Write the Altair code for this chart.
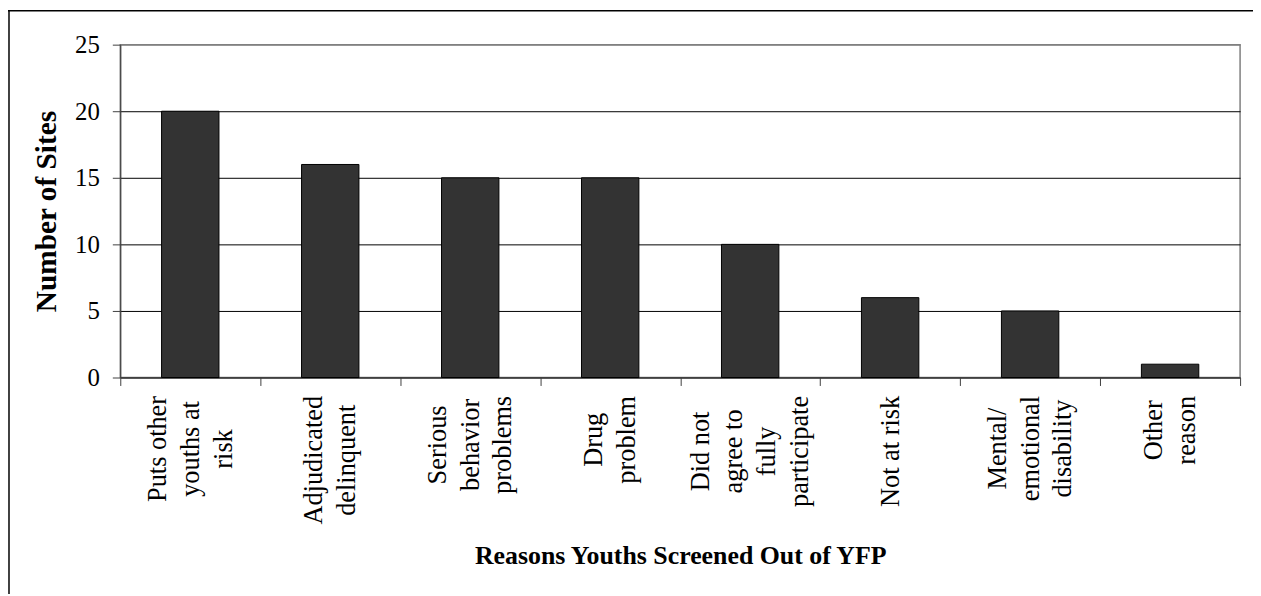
import altair as alt
import pandas as pd

# ---- data ----
categories = [
    "Puts other|youths at|risk",
    "Adjudicated|delinquent",
    "Serious|behavior|problems",
    "Drug|problem",
    "Did not|agree to|fully|participate",
    "Not at risk",
    "Mental/|emotional|disability",
    "Other|reason",
]
sites = [20, 16, 15, 15, 10, 6, 5, 1]
y_ticks = [0, 5, 10, 15, 20, 25]

df = pd.DataFrame({"reason": categories, "sites": sites})

# ---- styling ----
FONT = "Liberation Serif"
LABEL_SIZE = 26.5
LINE_H = 33
# Times / Liberation Serif advance widths (1/1000 em), used to top-align the
# centred multi-line rotated category labels
CHAR_W = {' ': 250, '/': 278, 'A': 722, 'D': 722, 'M': 889, 'N': 722, 'O': 722,
          'P': 556, 'S': 556, 'a': 444, 'b': 500, 'c': 444, 'd': 500, 'e': 444,
          'f': 333, 'g': 500, 'h': 500, 'i': 278, 'j': 278, 'k': 500, 'l': 278,
          'm': 778, 'n': 500, 'o': 500, 'p': 500, 'q': 500, 'r': 333, 's': 389,
          't': 278, 'u': 500, 'v': 500, 'y': 500}


def line_w(s):
    return sum(CHAR_W.get(c, 500) for c in s) * LABEL_SIZE / 1000.0


pad_conditions = [
    {"test": f"datum.value == '{c}'",
     "value": round(10 + max(line_w(l) for l in c.split('|')) / 2.0, 1)}
    for c in categories
]
offset_conditions = [
    {"test": f"datum.value == '{c}'",
     "value": -(len(c.split('|')) - 1) * LINE_H / 2.0}
    for c in categories
]

W, H = 1127, 335

bars = alt.Chart(df).mark_bar(
    color="#333333", stroke="black", strokeWidth=1,
    width=alt.RelativeBandSize(0.41),
).encode(
    x=alt.X(
        "reason:N", sort=categories,
        scale=alt.Scale(paddingInner=0, paddingOuter=0),
        axis=alt.Axis(
            title="Reasons Youths Screened Out of YFP",
            titleFont=FONT, titleFontSize=26, titleFontWeight="bold",
            titleColor="black", titleX=W / 2, titleY=187,
            titleAlign="center", titleBaseline="alphabetic",
            labelExpr="split(datum.label, '|')",
            labelAngle=270, labelAlign="center", labelBaseline="middle",
            labelFont=FONT, labelFontSize=LABEL_SIZE, labelColor="black",
            labelLineHeight=LINE_H, labelLimit=400, labelOverlap=False,
            labelPadding={"condition": pad_conditions, "value": 60},
            labelOffset={"condition": offset_conditions, "value": 0},
            tickBand="extent", tickSize=8, tickColor="#404040",
            domainColor="#404040", domainWidth=1.2, grid=False,
        ),
    ),
    y=alt.Y(
        "sites:Q",
        scale=alt.Scale(domain=[0, 25], nice=False),
        axis=alt.Axis(
            values=y_ticks, title="Number of Sites",
            titleFont=FONT, titleFontSize=29.5, titleFontWeight="bold",
            titleColor="black", titleAngle=270, titleX=-74, titleY=H / 2,
            titleAlign="center", titleBaseline="middle",
            labelFont=FONT, labelFontSize=25, labelColor="black",
            labelPadding=13, labelBaseline="middle",
            tickSize=8, tickColor="#404040",
            domainColor="#404040", domainWidth=1.2,
            grid=True, gridWidth=1,
            gridColor={"condition": {"test": "datum.value == 25", "value": "#808080"},
                       "value": "black"},
        ),
    ),
)

frame_df = pd.DataFrame({"k": [0]})
left_border = alt.Chart(frame_df).mark_rule(color="#404040", strokeWidth=2).encode(
    x=alt.value(-112), y=alt.value(-35), y2=alt.value(H + 218)
)
top_border = alt.Chart(frame_df).mark_rule(color="black", strokeWidth=1.5).encode(
    x=alt.value(-113), x2=alt.value(W + 13), y=alt.value(-34.2)
)

chart = alt.layer(bars, left_border, top_border).properties(
    width=W, height=H,
    autosize=alt.AutoSizeParams(type="none"),
    padding={"left": 113, "top": 35, "right": 13, "bottom": 218},
    background="white",
).configure_view(
    stroke="#808080", strokeWidth=1.5, fill="white"
)

chart.save("out.html", embed_options={"renderer": "svg", "actions": False})
